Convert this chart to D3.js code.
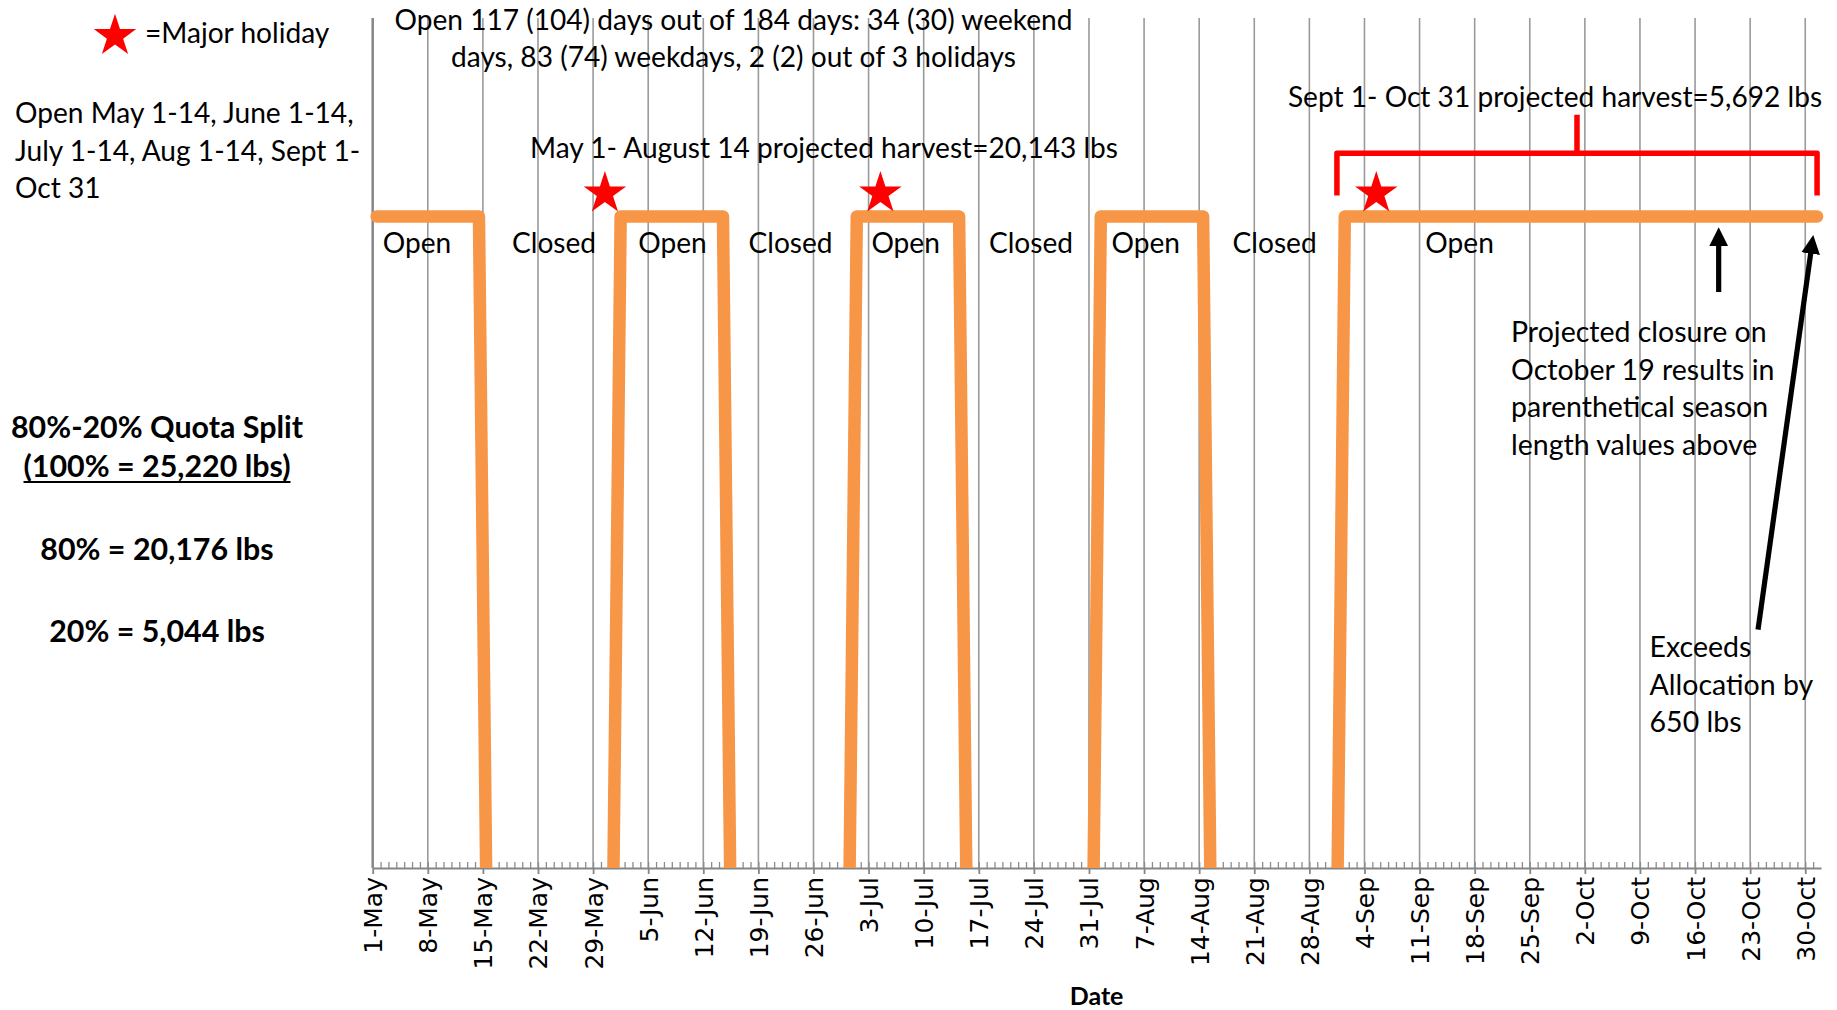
<!DOCTYPE html>
<html><head><meta charset="utf-8">
<script src="https://cdn.jsdelivr.net/npm/d3@7"></script>
<style>body{margin:0;background:#fff;} svg{display:block;}</style>
</head><body>
<svg id="chart" width="1837" height="1010"></svg>
<script>
// ---------------- data ----------------
const seriesDates = ["2011-05-01","2011-05-14","2011-05-15","2011-05-31","2011-06-01","2011-06-14","2011-06-15","2011-06-30","2011-07-01","2011-07-14","2011-07-15","2011-07-31","2011-08-01","2011-08-14","2011-08-15","2011-08-31","2011-09-01","2011-10-31"];
const seriesValues = [1,1,-0.1,-0.1,1,1,-0.1,-0.1,1,1,-0.1,-0.1,1,1,-0.1,-0.1,1,1];
const holidayDates = ["2011-05-30","2011-07-04","2011-09-05"];
const holidayLevel = 1.04;
const tickLabels = ["1-May","8-May","15-May","22-May","29-May","5-Jun","12-Jun","19-Jun","26-Jun","3-Jul","10-Jul","17-Jul","24-Jul","31-Jul","7-Aug","14-Aug","21-Aug","28-Aug","4-Sep","11-Sep","18-Sep","25-Sep","2-Oct","9-Oct","16-Oct","23-Oct","30-Oct"];
const periodLabels = ["Open","Closed","Open","Closed","Open","Closed","Open","Closed","Open"];
const periodLabelDays = [5.64, 23.06, 38.09, 53.12, 67.71, 83.64, 98.22, 114.6, 138.1]; // days after 1-May
const bracketDates = ["2011-08-31","2011-10-31"];
const bracketLevels = [1.032, 1.097, 1.156];
const closureArrow = {date:"2011-10-19", from:0.884, to:0.982};
const exceedArrow = {fromDate:"2011-10-24", toDate:"2011-10-31", from:0.366, to:0.970};
const axisStart = "2011-05-01", axisEnd = "2011-11-01";

// ---------------- setup ----------------
const W = 1837, H = 1010;
const svg = d3.select("#chart");
svg.append("rect").attr("width",W).attr("height",H).attr("fill","#fff");
const parse = d3.utcParse("%Y-%m-%d");
const x = d3.scaleUtc().domain([parse(axisStart), parse(axisEnd)]).range([372.7, 1821]);
const y = d3.scaleLinear().domain([0, 1.3]).range([868, 21]);
const xc = d => x(d3.utcHour.offset(parse(d), 12)); // day centre
const FONT = "Lato, 'Open Sans', sans-serif";
const FS = 28.1;
const gridTop = 18;

// gridlines
const weeks = d3.utcSunday.range(parse(axisStart), parse(axisEnd));
svg.append("g").selectAll("line").data(weeks.slice(1)).join("line")
  .attr("x1", d=>x(d)).attr("x2", d=>x(d))
  .attr("y1", gridTop).attr("y2", y(0))
  .attr("stroke","#9a9a9a").attr("stroke-width",1.6);
// value axis line
svg.append("line").attr("x1",x.range()[0]).attr("x2",x.range()[0])
  .attr("y1",gridTop).attr("y2",y(0)).attr("stroke","#868686").attr("stroke-width",2.5);

// minor ticks (daily, inside)
const minor = svg.append("g").attr("transform",`translate(0,${y(0)})`)
  .call(d3.axisBottom(x).tickValues(d3.utcDay.range(parse(axisStart), parse(axisEnd))).tickSize(-6).tickFormat(""));
minor.select(".domain").remove();
minor.selectAll("line").attr("stroke","#8c8c8c").attr("stroke-width",1.3);

// major axis
const ax = svg.append("g").attr("transform",`translate(0,${y(0)})`)
  .call(d3.axisBottom(x).tickValues(weeks).tickSize(6).tickSizeOuter(0).tickFormat((d,i)=>tickLabels[i]));
ax.select(".domain").attr("stroke","#868686").attr("stroke-width",2.2);
ax.selectAll(".tick line").attr("stroke","#868686").attr("stroke-width",1.8);
ax.selectAll(".tick text")
  .attr("font-family","'DejaVu Sans', Verdana, sans-serif").attr("font-size",25).attr("fill","#000")
  .attr("transform","rotate(-90)").attr("text-anchor","end")
  .attr("x",-9).attr("y",0).attr("dy","0.36em");

// clip
svg.append("clipPath").attr("id","plot").append("rect")
  .attr("x",x.range()[0]-10).attr("y",0).attr("width",x.range()[1]-x.range()[0]+20).attr("height",y(0));

// series line
const pts = seriesDates.map((d,i)=>({d, v:seriesValues[i]}));
svg.append("path").datum(pts).attr("clip-path","url(#plot)")
  .attr("d", d3.line().x(p=>xc(p.d)).y(p=>y(p.v)))
  .attr("fill","none").attr("stroke","#F79646").attr("stroke-width",12.5)
  .attr("stroke-linejoin","round").attr("stroke-linecap","round");

// stars
const star = d3.symbol().type(d3.symbolStar).size(560);
svg.append("g").selectAll("path").data(holidayDates).join("path")
  .attr("transform", d=>`translate(${xc(d)},${y(holidayLevel)+3})`)
  .attr("d", star).attr("fill","#FF0000");
svg.append("path").attr("transform","translate(115,36)").attr("d",star).attr("fill","#FF0000");

// red bracket
const bx0 = xc(bracketDates[0]), bx1 = xc(bracketDates[1]);
svg.append("path")
  .attr("d", `M${bx0},${y(bracketLevels[0])}V${y(bracketLevels[1])}H${bx1}V${y(bracketLevels[0])}M${(bx0+bx1)/2},${y(bracketLevels[1])}V${y(bracketLevels[2])}`)
  .attr("fill","none").attr("stroke","#FF0000").attr("stroke-width",5.5).attr("stroke-linejoin","round");

// arrows
const defs = svg.append("defs");
defs.append("marker").attr("id","ah").attr("viewBox","0 0 10 10").attr("refX",2).attr("refY",5)
  .attr("markerWidth",3.6).attr("markerHeight",3.8).attr("orient","auto").attr("markerUnits","strokeWidth")
  .append("path").attr("d","M0,0L10,5L0,10Z").attr("fill","#000");
function arrow(x1,y1,x2,y2){
  const L = Math.hypot(x2-x1,y2-y1), k = (L-14)/L;
  svg.append("line").attr("x1",x1).attr("y1",y1).attr("x2",x1+(x2-x1)*k).attr("y2",y1+(y2-y1)*k)
    .attr("stroke","#000").attr("stroke-width",5.2).attr("marker-end","url(#ah)");
}
arrow(x(parse(closureArrow.date)), y(closureArrow.from), x(parse(closureArrow.date)), y(closureArrow.to));
arrow(x(parse(exceedArrow.fromDate)), y(exceedArrow.from), x(parse(exceedArrow.toDate)), y(exceedArrow.to));

// ---------------- texts ----------------
function txt(str, px, py, opts={}){
  return svg.append("text").attr("x",px).attr("y",py)
    .attr("font-family",FONT).attr("font-size",opts.size||FS)
    .attr("font-weight",opts.bold?"bold":"normal")
    .attr("text-anchor",opts.anchor||"start").attr("fill","#000").text(str);
}
txt("=Major holiday", 145, 43);
txt("Open 117 (104) days out of 184 days: 34 (30) weekend", 733.5, 30, {anchor:"middle"});
txt("days, 83 (74) weekdays, 2 (2) out of 3 holidays", 733.5, 66.5, {anchor:"middle"});
txt("May 1- August 14 projected harvest=20,143 lbs", 824, 158, {anchor:"middle"});
txt("Sept 1- Oct 31 projected harvest=5,692 lbs", 1555, 106.6, {anchor:"middle"});
["Open May 1-14, June 1-14,","July 1-14, Aug 1-14, Sept 1-","Oct 31"].forEach((s,i)=>txt(s, 15, 123+37.5*i));
periodLabels.forEach((s,i)=>txt(s, x(d3.utcHour.offset(parse(axisStart), 24*periodLabelDays[i])), 253, {anchor:"middle"}));
const BFS = 30.4;
txt("80%-20% Quota Split", 157, 438, {anchor:"middle", bold:true, size:BFS});
const u = txt("(100% = 25,220 lbs)", 157, 477, {anchor:"middle", bold:true, size:BFS});
const bb = u.node().getBBox();
svg.append("line").attr("x1",bb.x).attr("x2",bb.x+bb.width).attr("y1",482).attr("y2",482).attr("stroke","#000").attr("stroke-width",2.2);
txt("80% = 20,176 lbs", 157, 560, {anchor:"middle", bold:true, size:BFS});
txt("20% = 5,044 lbs", 157, 642, {anchor:"middle", bold:true, size:BFS});
["Projected closure on","October 19 results in","parenthetical season","length values above"].forEach((s,i)=>txt(s, 1511, 342+37.5*i, {size:28.5}));
["Exceeds","Allocation by","650 lbs"].forEach((s,i)=>txt(s, 1649.6, 657+37.5*i, {size:28.5}));
txt("Date", 1096.6, 1005, {anchor:"middle", bold:true, size:25});
</script>
</body></html>
